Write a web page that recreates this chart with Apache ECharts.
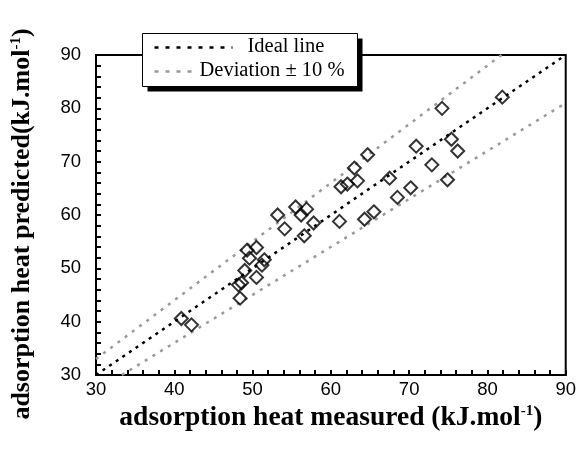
<!DOCTYPE html>
<html>
<head>
<meta charset="utf-8">
<script src="https://cdn.jsdelivr.net/npm/echarts@6/dist/echarts.min.js"></script>
<style>
  html, body { margin: 0; padding: 0; background: #fff; }
  #chart { width: 579px; height: 450px; }
</style>
</head>
<body>
<div id="chart"></div>
<script>
// measured vs predicted adsorption heat (kJ/mol)
const measured = [40.9, 42.2, 48.4, 48.2, 48.6, 49.0, 50.5, 49.6, 49.3, 50.5, 51.2, 51.5,
  53.2, 54.1, 55.5, 56.2, 56.9, 57.8, 56.6, 61.1, 61.3, 62.1, 63.4, 63.0, 64.7, 67.5,
  64.3, 65.5, 68.5, 70.2, 70.9, 72.9, 74.2, 74.9, 75.4, 76.2, 81.9]
const predicted = [40.6, 39.4, 44.4, 46.9, 47.3, 49.6, 48.3, 51.9, 53.4, 53.9, 50.6, 51.6,
  60.0, 57.4, 61.5, 60.0, 61.1, 58.5, 56.1, 58.8, 65.3, 65.8, 66.4, 68.8, 71.3, 66.9,
  59.2, 60.6, 63.3, 65.1, 72.9, 69.4, 80.0, 66.6, 74.2, 72.0, 82.1]
const idealLine = [[30, 30], [90, 90]]
const upperLine = [[30, 33], [81.8, 90]]
const lowerLine = [[33.3, 30], [90, 81]]

const points = measured.map((m, i) => [m, predicted[i]])

const myChart = echarts.init(document.getElementById('chart'))
const titleRich = (size) => ({
  a: { fontFamily: 'Liberation Serif', fontWeight: 'bold', fontSize: size, color: '#000' },
  s: { fontFamily: 'Liberation Serif', fontWeight: 'bold', fontSize: 15, color: '#000', verticalAlign: 'top', padding: [0, 0, 10, 0] }
})
const axisCommon = {
  type: 'value',
  min: 30,
  max: 90,
  interval: 10,
  nameLocation: 'middle',
  axisLine: { show: true, lineStyle: { color: '#000', width: 2 } },
  axisTick: { show: true, inside: true, length: 5, lineStyle: { color: '#000', width: 2 } },
  minorTick: { show: true, splitNumber: 5, length: 5, lineStyle: { color: '#000', width: 2 } },
  splitLine: { show: false },
  axisLabel: { fontFamily: 'Liberation Sans', fontSize: 18.5, color: '#000' }
}

const option = {
  animation: false,
  grid: {
    left: 96,
    right: 12,
    top: 55,
    bottom: 75,
    show: true,
    borderColor: '#000',
    borderWidth: 2
  },
  xAxis: Object.assign({}, axisCommon, {
    name: '{a|adsorption heat measured (kJ.mol}{s|-1}{a|)}',
    nameGap: 20,
    nameTextStyle: { rich: titleRich(27.5) },
    axisLabel: Object.assign({}, axisCommon.axisLabel, { margin: 5 })
  }),
  yAxis: Object.assign({}, axisCommon, {
    name: '{a|adsorption heat predicted(kJ.mol}{s|-1}{a|)}',
    nameGap: 61,
    nameTextStyle: { rich: titleRich(26), padding: [0, 18, 0, 0] },
    axisLabel: Object.assign({}, axisCommon.axisLabel, { margin: 15 })
  }),
  series: [
    {
      type: 'line',
      name: 'Deviation ± 10 %',
      data: upperLine,
      symbol: 'none',
      lineStyle: { color: '#999', width: 2.5, type: [3, 6] }
    },
    {
      type: 'line',
      name: 'Deviation ± 10 % low',
      data: lowerLine,
      symbol: 'none',
      lineStyle: { color: '#999', width: 2.5, type: [3, 6] }
    },
    {
      type: 'line',
      name: 'Ideal line',
      data: idealLine,
      symbol: 'none',
      lineStyle: { color: '#000', width: 2.5, type: [3, 5] }
    },
    {
      type: 'scatter',
      name: 'data',
      data: points,
      symbol: 'diamond',
      symbolSize: 13,
      itemStyle: { color: 'rgba(0,0,0,0)', borderColor: '#000', borderWidth: 2 },
      z: 5
    }
  ],
  graphic: [
    {
      type: 'group',
      left: 142,
      top: 33,
      z: 100,
      children: [
        { type: 'rect', shape: { x: 5, y: 5, width: 215, height: 53 }, style: { fill: '#000' } },
        { type: 'rect', shape: { x: 0, y: 0, width: 215, height: 53 }, style: { fill: '#fff', stroke: '#000', lineWidth: 1 } },
        { type: 'line', shape: { x1: 12, y1: 14, x2: 90, y2: 14 }, style: { stroke: '#000', lineWidth: 2.5, lineDash: [4, 7] } },
        { type: 'text', style: { x: 105, y: 13, text: 'Ideal line', fontFamily: 'Liberation Serif', fontSize: 20.5, fill: '#000', verticalAlign: 'middle' } },
        { type: 'line', shape: { x1: 12, y1: 38, x2: 52, y2: 38 }, style: { stroke: '#999', lineWidth: 2.5, lineDash: [4, 7] } },
        { type: 'text', style: { x: 57, y: 37, text: 'Deviation ± 10 %', fontFamily: 'Liberation Serif', fontSize: 20.5, fill: '#000', verticalAlign: 'middle' } }
      ]
    }
  ]
}

myChart.setOption(option)
</script>
</body>
</html>
